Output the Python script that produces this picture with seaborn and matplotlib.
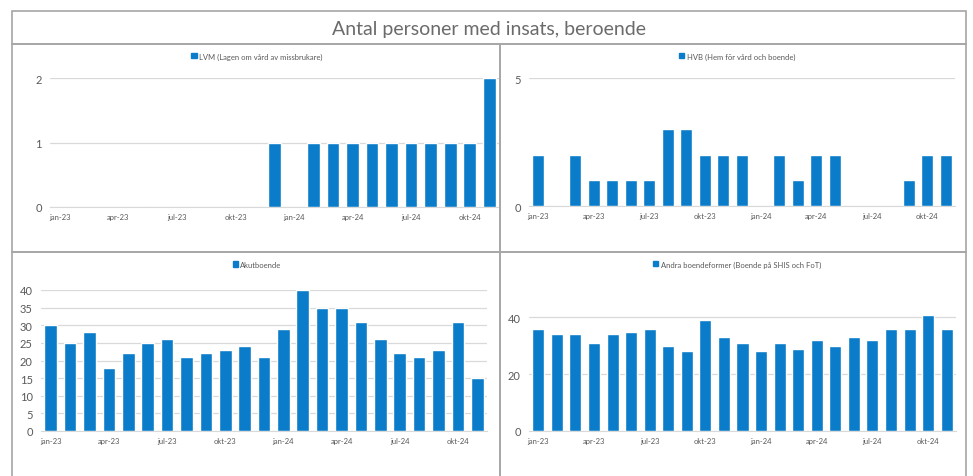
import matplotlib
matplotlib.use('Agg')
import matplotlib.pyplot as plt
import seaborn as sns
from matplotlib.patches import Rectangle, Patch

months = ['jan-23', 'feb-23', 'mar-23', 'apr-23', 'maj-23', 'jun-23',
          'jul-23', 'aug-23', 'sep-23', 'okt-23', 'nov-23', 'dec-23',
          'jan-24', 'feb-24', 'mar-24', 'apr-24', 'maj-24', 'jun-24',
          'jul-24', 'aug-24', 'sep-24', 'okt-24', 'nov-24']

lvm = [0, 0, 0, 0, 0, 0, 0, 0, 0, 0, 0, 1,
       0, 1, 1, 1, 1, 1, 1, 1, 1, 1, 2]
hvb = [2, 0, 2, 1, 1, 1, 1, 3, 3, 2, 2, 2,
       0, 2, 1, 2, 2, 0, 0, 0, 1, 2, 2]
akut = [30, 25, 28, 18, 22, 25, 26, 21, 22, 23, 24, 21,
        29, 40, 35, 35, 31, 26, 22, 21, 23, 31, 15]
andra = [36, 34, 34, 31, 34, 35, 36, 30, 28, 39, 33, 31,
         28, 31, 29, 32, 30, 33, 32, 36, 36, 41, 36]

title = 'Antal personer med insats, beroende'
names = ['LVM (Lagen om vård av missbrukare)',
         'HVB (Hem för vård och boende)',
         'Akutboende',
         'Andra boendeformer (Boende på SHIS och FoT)']

blue = '#0a7cc9'
W, H = 973, 477

sns.set_style('white')
plt.rcParams['font.family'] = ['Lato', 'DejaVu Sans']

fig = plt.figure(figsize=(W / 100, H / 100), dpi=100)


def px(l, t, r, b):
    return [l / W, 1 - b / H, (r - l) / W, (b - t) / H]


def frame(l, t, r, b):
    fig.add_artist(Rectangle((l / W, 1 - b / H), (r - l) / W, (b - t) / H,
                             transform=fig.transFigure, fill=False,
                             edgecolor='#a6a6a6', linewidth=1.2))


# title box and panel frames
frame(12, 12, 966, 45)
frame(12, 45, 500, 253)
frame(500, 45, 966, 253)
frame(12, 253, 500, 490)
frame(500, 253, 966, 490)
fig.text(489 / W, 1 - 29 / H, title, ha='center', va='center',
         fontsize=14, color='#6b6b6b')

# values, name, axes box, y max, y ticks, legend centre (px)
panels = [
    (lvm, names[0], px(50, 79, 499, 208), 2, [0, 1, 2], (257, 57)),
    (hvb, names[1], px(529, 79, 955, 207), 5, [0, 5], (737, 57)),
    (akut, names[2], px(41, 291, 487, 432), 40, list(range(0, 41, 5)), (257, 265)),
    (andra, names[3], px(529, 290, 956, 432), 50, [0, 20, 40], (737, 265)),
]

for vals, name, pos, top, yt, lg in panels:
    ax = fig.add_axes(pos)
    sns.barplot(x=months, y=vals, color=blue, width=0.65, ax=ax,
                saturation=1, zorder=3)
    ax.set_ylim(0, top)
    ax.set_yticks(yt)
    ax.set_xlim(-0.5, len(months) - 0.5)
    ax.set_xticks(range(0, len(months), 3))
    ax.set_xticklabels(months[::3], fontsize=5.5, color='#595959')
    ax.tick_params(axis='y', labelsize=8, labelcolor='#595959', length=0, pad=6)
    ax.tick_params(axis='x', length=0, pad=4)
    ax.yaxis.grid(True, color='#d9d9d9', linewidth=0.9, zorder=0)
    for s in ['top', 'right', 'left']:
        ax.spines[s].set_visible(False)
    ax.spines['bottom'].set_color('#d9d9d9')
    ax.set_xlabel('')
    ax.set_ylabel('')
    ax.patch.set_alpha(0)
    ax.legend(handles=[Patch(color=blue, label=name)], loc='center',
              bbox_to_anchor=(lg[0] / W, 1 - lg[1] / H),
              bbox_transform=fig.transFigure, frameon=False, fontsize=5.5,
              handlelength=0.7, handleheight=0.7, handletextpad=0.3,
              labelcolor='#595959', borderpad=0)

fig.savefig('out.png', dpi=100)
